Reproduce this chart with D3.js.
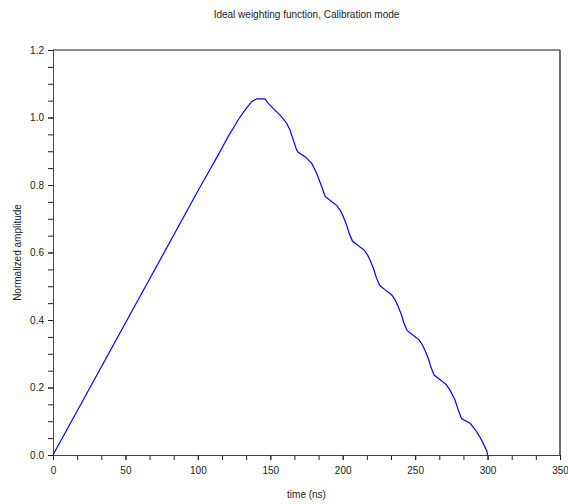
<!DOCTYPE html>
<html lang="en">
  <head>
    <meta charset="UTF-8" />
    <title>Ideal weighting function</title>
    <script src="https://cdn.jsdelivr.net/npm/d3@7"></script>
    <style>
      body { margin: 0; background: #fff; }
      svg text { font-family: "Liberation Sans", Arial, sans-serif; }
    </style>
  </head>
  <body>
    <div class="chart"></div>
    <script>
    // values
    var timeNs = [0, 50, 100, 108, 113, 117.6, 121, 124.5, 128, 131.4, 134.5, 137.2, 139, 140.6, 146.3,
      148.6, 153.2, 157.9, 161.3, 163.6, 165.9, 168.2,
      169.3, 174.0, 178.6, 182.0, 185.5,
      187.9, 191.4, 196.0, 198.3, 200.5, 202.8, 204.5,
      206.7, 210.2, 214.8, 217.1, 219.3, 221.6, 223.3,
      225.6, 229.1, 233.7, 236.0, 238.2, 240.5, 242.2,
      244.4, 247.9, 252.5, 254.8, 257.0, 259.3, 261.0,
      263.1, 266.6, 271.2, 274.0, 277.5, 279.8,
      282.0, 285.0, 288.0, 292.5, 295.9, 298.0, 299.4, 300];
    var amplitude = [0, 0.391, 0.782, 0.843, 0.881, 0.917, 0.944, 0.969, 0.994, 1.015, 1.033, 1.047, 1.052, 1.055, 1.055,
      1.042, 1.022, 1.002, 0.983, 0.963, 0.933, 0.904,
      0.897, 0.884, 0.864, 0.835, 0.795,
      0.766, 0.754, 0.739, 0.725, 0.705, 0.680, 0.656,
      0.634, 0.622, 0.607, 0.593, 0.573, 0.548, 0.524,
      0.502, 0.490, 0.475, 0.461, 0.441, 0.416, 0.392,
      0.369, 0.357, 0.342, 0.328, 0.308, 0.283, 0.259,
      0.237, 0.225, 0.210, 0.193, 0.163, 0.133,
      0.108, 0.101, 0.094, 0.069, 0.044, 0.025, 0.013, 0];

    var xTicks = [0, 50, 100, 150, 200, 250, 300, 350];
    var yTicks = [0, 0.2, 0.4, 0.6, 0.8, 1.0, 1.2];

    var w = 568, h = 504;
    var pL = 53, pR = 560, pT = 50, pB = 455;

    var svg = d3.select(".chart").append("svg")
      .attr("width", w)
      .attr("height", h);

    var x = d3.scaleLinear().domain([0, 350]).range([pL, pR]);
    var y = d3.scaleLinear().domain([0, 1.2]).range([pB, pT]);

    // minor ticks (scilab style: 2 between x majors, 3 between y majors)
    var xMinor = d3.range(0, 350.01, 50 / 3);
    var yMinor = d3.range(0, 1.2001, 0.05);

    var xAxisMinor = d3.axisBottom(x).tickValues(xMinor).tickSize(5).tickFormat("");
    var yAxisMinor = d3.axisLeft(y).tickValues(yMinor).tickSize(5).tickFormat("");
    var xAxis = d3.axisBottom(x).tickValues(xTicks).tickSize(5).tickFormat(d3.format("d"));
    var yAxis = d3.axisLeft(y).tickValues(yTicks).tickSize(5).tickFormat(d3.format(".1f"));

    svg.append("g").attr("transform", "translate(0," + pB + ")").call(xAxisMinor);
    svg.append("g").attr("transform", "translate(" + pL + ",0)").call(yAxisMinor);
    var gx = svg.append("g").attr("transform", "translate(0," + pB + ")").call(xAxis);
    var gy = svg.append("g").attr("transform", "translate(" + pL + ",0)").call(yAxis);

    svg.selectAll(".domain").attr("stroke", "#444");
    svg.selectAll(".tick line").attr("stroke", "#222");
    gx.selectAll("text").attr("font-size", 10).attr("fill", "#222").attr("dy", "1.1em");
    gy.selectAll("text").attr("font-size", 10).attr("fill", "#222").attr("dx", "-0.1em");

    // frame top and right
    svg.append("line")
      .attr("x1", pL).attr("x2", pR).attr("y1", pT).attr("y2", pT)
      .attr("stroke", "#666").attr("stroke-width", 1.5);
    svg.append("line")
      .attr("x1", pR).attr("x2", pR).attr("y1", pT).attr("y2", pB)
      .attr("stroke", "#111").attr("stroke-width", 1.2);

    var pts = timeNs.map(function(t, i) { return [t, amplitude[i]]; });
    var line = d3.line()
      .x(function(d) { return x(d[0]); })
      .y(function(d) { return y(d[1]); });

    svg.append("path")
      .datum(pts)
      .attr("d", line)
      .attr("fill", "none")
      .attr("stroke", "#0000ff")
      .attr("stroke-width", 1.2);

    svg.append("text")
      .attr("x", (pL + pR) / 2)
      .attr("y", 18)
      .attr("text-anchor", "middle")
      .attr("font-size", 10)
      .attr("fill", "#222")
      .text("Ideal weighting function, Calibration mode");

    svg.append("text")
      .attr("x", (pL + pR) / 2)
      .attr("y", 498)
      .attr("text-anchor", "middle")
      .attr("font-size", 10)
      .attr("fill", "#222")
      .text("time (ns)");

    svg.append("text")
      .attr("transform", "translate(21," + ((pT + pB) / 2) + ") rotate(-90)")
      .attr("text-anchor", "middle")
      .attr("font-size", 10)
      .attr("fill", "#222")
      .text("Normalized amplitude");
    </script>
  </body>
</html>
